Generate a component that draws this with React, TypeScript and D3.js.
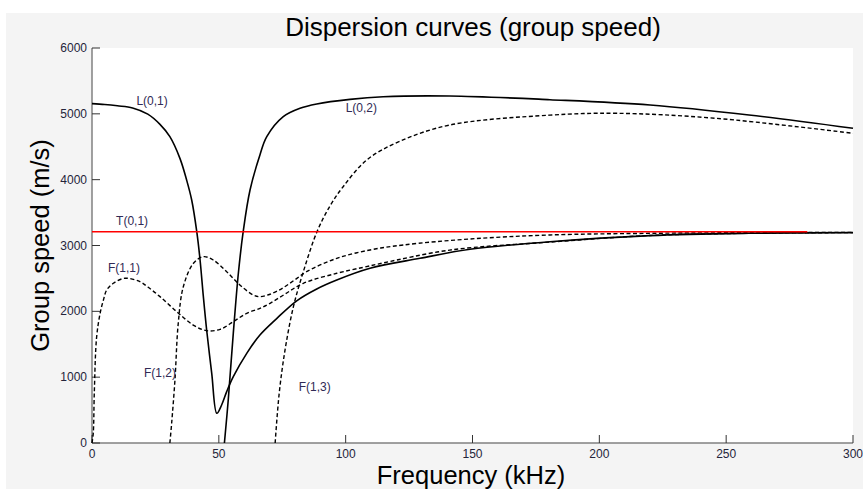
import React from "react";
import * as d3 from "d3";

const xTicks = [0, 50, 100, 150, 200, 250, 300];
const yTicks = [0, 1000, 2000, 3000, 4000, 5000, 6000];

const L01: [number, number][] = [
  [0, 5155], [5, 5142], [10, 5122], [16, 5090], [22, 4995], [26.8, 4840], [30.7, 4653],
  [34.7, 4320], [37.3, 3995], [39.3, 3691], [41.3, 3210], [42.6, 2780], [43.9, 2223],
  [45.2, 1717], [47.2, 1059], [49.2, 451], [51.1, 577], [53.1, 780], [55.7, 1007],
  [61, 1362], [66.2, 1640], [72.8, 1890], [80.7, 2160], [88.6, 2340], [96.5, 2476],
  [109.6, 2654], [129.3, 2805], [149, 2942], [180.5, 3058], [220, 3150], [259, 3185],
  [300, 3195],
];
const L02: [number, number][] = [
  [52.2, 0], [53.7, 650], [55.7, 1666], [57.7, 2578], [59.6, 3210], [62.3, 3843],
  [66.2, 4375], [68.9, 4653], [75.4, 4957], [82, 5084], [88.6, 5150], [101.7, 5220],
  [114.8, 5260], [141, 5271], [180.5, 5215], [220, 5134], [259, 4982], [300, 4780],
];
const F11: [number, number][] = [
  [0, 0], [0.5, 150], [0.9, 755], [1.8, 1600], [3.2, 1970], [4.5, 2172], [5.8, 2324],
  [8.4, 2426], [13, 2502], [18.9, 2450], [22, 2370], [26.8, 2223], [33.4, 1995],
  [39.9, 1792], [45.2, 1706], [50.5, 1727], [55.7, 1843], [61, 1970], [66.2, 2046],
  [70.2, 2122], [76, 2260], [83.3, 2426], [96.5, 2578], [107, 2669], [114.8, 2735],
  [141, 2930], [180.5, 3052], [220, 3152], [259, 3186], [300, 3196],
];
const F12: [number, number][] = [
  [30.7, 0], [31.4, 300], [32.7, 957], [34, 1818], [36, 2374], [40, 2730], [43.9, 2830],
  [47.8, 2780], [53.1, 2602], [58.3, 2400], [63.6, 2248], [66.2, 2223], [70.2, 2260],
  [75, 2350], [80, 2480], [84.6, 2602], [96.5, 2805], [109.6, 2932], [122.7, 3008],
  [149, 3099], [180.5, 3160], [220, 3185], [260, 3195], [300, 3200],
];
const F13: [number, number][] = [
  [72.2, 0], [73.8, 755], [76.1, 1413], [79.4, 2071], [83.3, 2600], [88.6, 3200],
  [93.8, 3600], [99, 3893], [108.3, 4299], [121, 4577], [141, 4830], [180.5, 4980],
  [206.8, 5008], [246, 4932], [300, 4704],
];
const T01: [number, number][] = [[0, 3210], [282, 3210]];

const curveLabels: [string, number, number][] = [
  ["L(0,1)", 17.5, 5134],
  ["L(0,2)", 100, 5028],
  ["T(0,1)", 9.5, 3310],
  ["F(1,1)", 6.3, 2600],
  ["F(1,2)", 20.5, 1000],
  ["F(1,3)", 81.5, 790],
];

export default function App() {
  const W = 863, H = 489;
  const x = d3.scaleLinear().domain([0, 300]).range([92, 853]);
  const y = d3.scaleLinear().domain([0, 6000]).range([443, 48]);
  const line = d3
    .line<[number, number]>()
    .x((d) => x(d[0]))
    .y((d) => y(d[1]))
    .curve(d3.curveCatmullRom.alpha(0.5));
  const font = "Arial, 'Liberation Sans', sans-serif";
  const tickColor = "#24243a";
  return (
    <svg width={W} height={H} style={{ position: "absolute", left: 0, top: 0 }} fontFamily={font}>
      <rect x={0} y={0} width={W} height={H} fill="#ffffff" />
      <rect x={6} y={13} width={W - 6} height={H - 13} fill="#f4f4f4" />
      <rect x={x(0)} y={y(6000)} width={x(300) - x(0)} height={y(0) - y(6000)} fill="#ffffff" />
      <text x={473} y={36} textAnchor="middle" fontSize={26} fill="#000">
        Dispersion curves (group speed)
      </text>
      <text x={471} y={484} textAnchor="middle" fontSize={25.5} fill="#000">
        Frequency (kHz)
      </text>
      <text
        transform={`translate(49,${(y(0) + y(6000)) / 2}) rotate(-90)`}
        textAnchor="middle"
        fontSize={25.5}
        fill="#000"
      >
        Group speed (m/s)
      </text>
      {/* axes */}
      <line x1={x(0)} x2={x(0)} y1={y(0)} y2={y(6000)} stroke="#808080" strokeWidth={1.5} />
      <line x1={x(0)} x2={x(300)} y1={y(0)} y2={y(0)} stroke="#808080" strokeWidth={1.5} />
      {yTicks.map((t) => (
        <g key={"y" + t}>
          <line x1={x(0)} x2={x(0) + 8} y1={y(t)} y2={y(t)} stroke="#333" strokeWidth={1} />
          <text x={x(0) - 5} y={y(t) + 4} textAnchor="end" fontSize={12} fill={tickColor}>
            {t}
          </text>
        </g>
      ))}
      {xTicks.map((t) => (
        <g key={"x" + t}>
          <line x1={x(t)} x2={x(t)} y1={y(0)} y2={y(0) - 8} stroke="#333" strokeWidth={1} />
          <text x={x(t)} y={y(0) + 15} textAnchor="middle" fontSize={12} fill={tickColor}>
            {t}
          </text>
        </g>
      ))}
      {/* curves */}
      <path d={line(L01) || ""} fill="none" stroke="#000" strokeWidth={1.6} />
      <path d={line(L02) || ""} fill="none" stroke="#000" strokeWidth={1.6} />
      <path d={line(F11) || ""} fill="none" stroke="#000" strokeWidth={1.4} strokeDasharray="4,2.5" />
      <path d={line(F12) || ""} fill="none" stroke="#000" strokeWidth={1.4} strokeDasharray="4,2.5" />
      <path d={line(F13) || ""} fill="none" stroke="#000" strokeWidth={1.4} strokeDasharray="4,2.5" />
      <path d={line(T01) || ""} fill="none" stroke="#ff0000" strokeWidth={1.6} />
      {curveLabels.map(([s, f, v]) => (
        <text key={s} x={x(f)} y={y(v)} fontSize={12} fill="#302a55">
          {s}
        </text>
      ))}
    </svg>
  );
}
